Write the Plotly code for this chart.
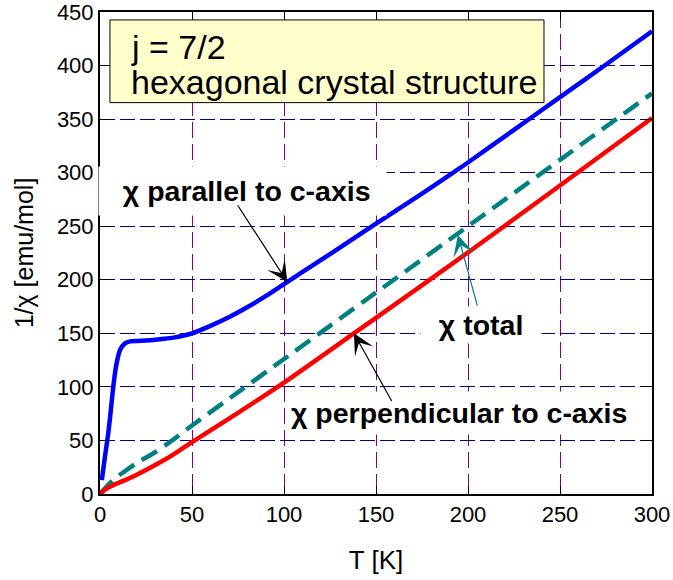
import plotly.graph_objects as go

# Inverse susceptibility of a j = 7/2 ion in a hexagonal crystal field
t_par = [1, 2.7, 4.5, 5.5, 7.2, 8.7, 10.9, 13.6, 16.3, 20, 25, 30, 35, 40, 45, 50,
         60, 70, 80, 90, 100, 125, 150, 175, 200, 225, 250, 275, 300]
inv_par = [13, 35, 57, 72, 100, 119, 134.5, 140.6, 142.5, 142.8, 143.3, 144, 144.9, 146, 147.7, 150,
           157, 165, 174.3, 184.7, 196, 224, 252.5, 280.5, 309.5, 340, 370.5, 401, 432]

t_perp = [0, 2, 4, 8, 13, 20, 30, 40, 50, 75, 100, 138, 150, 200, 250, 300]
inv_perp = [0, 3, 5.5, 9, 12.5, 18, 27, 37, 48.5, 75.8, 104, 150, 164.5, 225.5, 288, 351]

t_tot = [0, 2, 5, 10, 15, 20, 30, 40, 50, 75, 100, 150, 200, 250, 300]
inv_tot = [0, 4, 9.5, 17, 23, 29, 39, 51, 64, 95, 126, 188, 250, 312, 374]

x_ticks = [0, 50, 100, 150, 200, 250, 300]
y_ticks = [0, 50, 100, 150, 200, 250, 300, 350, 400, 450]

FONT = "Liberation Sans, Arial, sans-serif"
NB = "&nbsp;"

fig = go.Figure()
fig.add_trace(go.Scatter(x=t_par, y=inv_par, mode="lines",
                         line=dict(color="#0000FF", width=4.5, shape="spline", smoothing=0.6)))
fig.add_trace(go.Scatter(x=t_tot, y=inv_tot, mode="lines",
                         line=dict(color="#008080", width=4.5, dash="18px,9px", shape="spline", smoothing=0.6)))
fig.add_trace(go.Scatter(x=t_perp, y=inv_perp, mode="lines",
                         line=dict(color="#FF0000", width=4.5, shape="spline", smoothing=0.6)))

axis_common = dict(
    showline=True, linewidth=2, linecolor="black", mirror="ticks",
    ticks="inside", ticklen=8, tickwidth=1, tickcolor="black",
    showgrid=True, gridwidth=1, zeroline=False, automargin=False,
    ticklabeloverflow="allow",
    tickfont=dict(family=FONT, size=22, color="black"),
)
fig.update_xaxes(range=[0, 300], tickvals=x_ticks, gridcolor="#800080", griddash="16px,6px",
                 title=dict(text="T [K]", font=dict(family=FONT, size=26, color="black"), standoff=24),
                 **axis_common)
fig.update_yaxes(range=[0, 450], tickvals=y_ticks, gridcolor="#000080", griddash="15px,5px",
                 title=dict(text="1/χ [emu/mol]", font=dict(family=FONT, size=25, color="black"), standoff=16),
                 **axis_common)

# Info box in the upper-left corner
fig.add_shape(type="rect", xref="x", yref="y", x0=5.4, x1=241.3, y0=365.4, y1=442.6,
              fillcolor="#FFFFCC", line=dict(color="black", width=1), layer="above")
box_font = dict(family=FONT, size=34, color="black")
fig.add_annotation(x=15.5, y=417, xref="x", yref="y", text="j = 7/2", showarrow=False,
                   xanchor="left", yanchor="middle", font=box_font)
fig.add_annotation(x=15.5, y=384.5, xref="x", yref="y", text="hexagonal crystal structure", showarrow=False,
                   xanchor="left", yanchor="middle", font=box_font)

# Curve labels on white patches: (text, xref, x, y, anchor, pad, spaces before, spaces after)
label_font = dict(family=FONT, size=28.5, color="black")
labels = [
    ("χ parallel to c-axis", "paper", -0.004, 283, "left", 8, 2, 1),
    ("χ total", "x", 207, 158, "center", 2, 2, 2),
    ("χ perpendicular to c-axis", "x", 199.5, 75.5, "center", 5, 0, 2),
]
for text, xr, lx, ly, anchor, pad, nb_before, nb_after in labels:
    fig.add_annotation(x=lx, y=ly, xref=xr, yref="y", xanchor=anchor,
                       text=NB * nb_before + "<b>%s</b>" % text + NB * nb_after, showarrow=False,
                       bgcolor="white", borderpad=pad, font=label_font)

# Pointer arrows: (head x, head y, tail x, tail y, colour)
arrows = [
    (101.8, 198, 74.3, 271, "black"),
    (194.5, 241.8, 205.3, 174.5, "#008080"),
    (138, 150, 159, 85.5, "black"),
]
for hx, hy, tx, ty, col in arrows:
    fig.add_annotation(x=hx, y=hy, ax=tx, ay=ty, xref="x", yref="y", axref="x", ayref="y",
                       text="", showarrow=True, arrowhead=3, arrowsize=2.9, arrowwidth=1.2,
                       arrowcolor=col)

fig.update_layout(
    width=673, height=580,
    margin=dict(l=100, r=21, t=12, b=86),
    plot_bgcolor="white", paper_bgcolor="white",
    showlegend=False,
)

fig.write_html("out.html")
